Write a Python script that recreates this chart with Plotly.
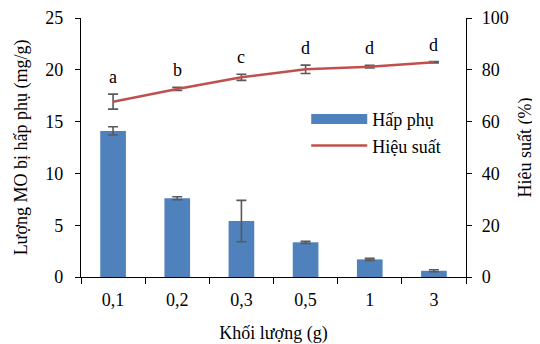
import plotly.graph_objects as go

categories = ["0,1", "0,2", "0,3", "0,5", "1", "3"]
adsorption = [14.1, 7.6, 5.4, 3.35, 1.7, 0.6]
adsorption_err = [0.4, 0.15, 2.0, 0.1, 0.1, 0.1]
efficiency = [67.7, 72.6, 77.1, 80.2, 81.2, 82.9]
efficiency_err = [2.9, 0.6, 1.2, 1.6, 0.5, 0.3]
letters = ["a", "b", "c", "d", "d", "d"]

FONT = "Times New Roman"
BLUE = "#4F81BD"
RED = "#C0504D"
GRAY = "#595959"

fig = go.Figure()
fig.add_trace(go.Bar(
    x=categories, y=adsorption, name="Hấp phụ", marker_color=BLUE,
    marker_line_width=0, showlegend=False,
    error_y=dict(type="data", array=adsorption_err, color=GRAY, thickness=1.6, width=5),
))
fig.add_trace(go.Scatter(
    x=categories, y=efficiency, name="Hiệu suất", mode="lines", yaxis="y2",
    line=dict(color=RED, width=2.5), showlegend=False,
    error_y=dict(type="data", array=efficiency_err, color=GRAY, thickness=1.6, width=5),
))
# legend entries
fig.add_trace(go.Scatter(x=[None], y=[None], mode="lines", name="Hấp phụ",
                         line=dict(color=BLUE, width=10)))
fig.add_trace(go.Scatter(x=[None], y=[None], mode="lines", name="Hiệu suất",
                         line=dict(color=RED, width=2.5)))

for i, (v, e, t) in enumerate(zip(efficiency, efficiency_err, letters)):
    fig.add_annotation(x=i, y=v + e, xref="x", yref="y2", text=t, showarrow=False,
                       yanchor="bottom", yshift=5, font=dict(family=FONT, size=18, color="black"))

fig.update_layout(
    width=532, height=336,
    margin=dict(l=73, r=74, t=10, b=67),
    paper_bgcolor="white", plot_bgcolor="white",
    font=dict(family=FONT, size=18, color="black"),
    bargap=0.6,
    legend=dict(x=0.585, y=0.68, xanchor="left", yanchor="top", bgcolor="rgba(0,0,0,0)",
                itemwidth=56, tracegroupgap=0, font=dict(family=FONT, size=18)),
    xaxis=dict(
        type="category", showline=True, linecolor="black", linewidth=1.3,
        ticks="outside", tickson="boundaries", ticklen=6, tickcolor="black", tickwidth=1.3,
        showgrid=False, zeroline=False, automargin=False, ticklabelstandoff=6,
        title=dict(text="Khối lượng (g)", font=dict(size=18), standoff=19),
    ),
    yaxis=dict(
        range=[0, 25], dtick=5, showline=True, linecolor="black", linewidth=1.3,
        ticks="outside", ticklen=5, tickcolor="black", tickwidth=1.3,
        showgrid=False, zeroline=False, automargin=False, ticklabelstandoff=8,
        title=dict(text="Lượng MO bị hấp phụ (mg/g)", font=dict(size=18), standoff=12),
    ),
    yaxis2=dict(
        range=[0, 100], dtick=20, overlaying="y", side="right", showline=True,
        linecolor="black", linewidth=1.3, ticks="outside", ticklen=5, tickcolor="black",
        tickwidth=1.3, showgrid=False, zeroline=False, automargin=False, ticklabelstandoff=6,
        title=dict(text="Hiệu suất (%)", font=dict(size=18), standoff=10),
    ),
)

fig.write_html("out.html")
